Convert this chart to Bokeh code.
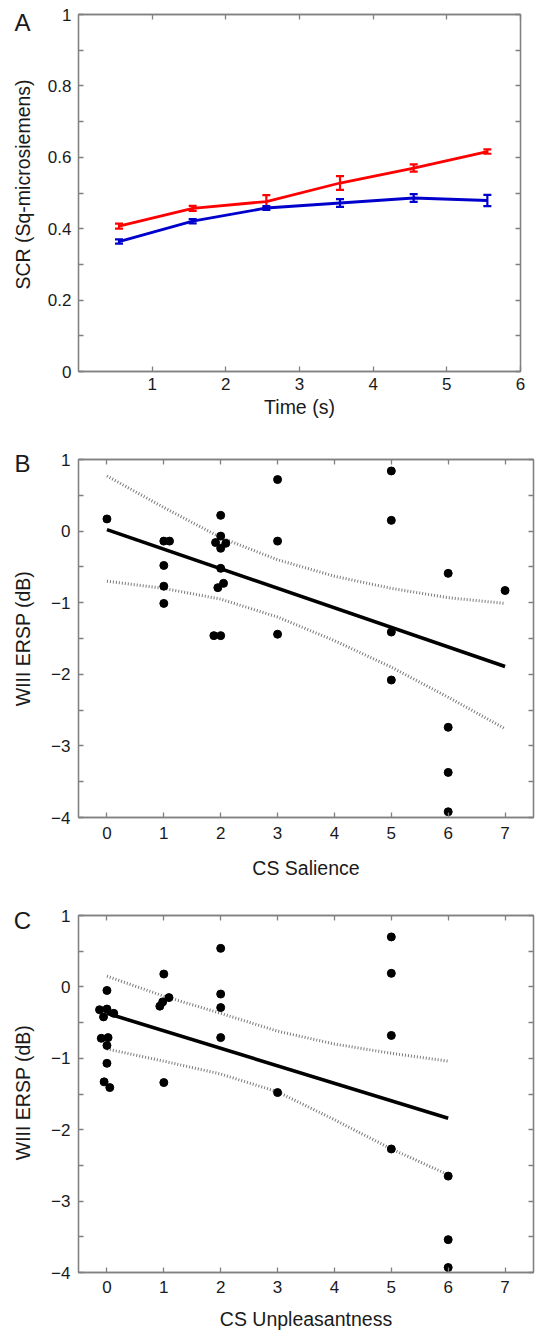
import math
from bokeh.plotting import figure
from bokeh.models import (Range1d, FixedTicker, LinearAxis, Whisker, ColumnDataSource,
                          TeeHead, CustomJSTickFormatter, CustomLabelingPolicy)
from bokeh.layouts import column, row
from bokeh.core.properties import value
from bokeh.embed import file_html
from bokeh.resources import INLINE

# ---------------- data ----------------
# Panel A
time_s = [0.55, 1.55, 2.55, 3.55, 4.55, 5.55]
scr_red = [0.407, 0.457, 0.476, 0.528, 0.570, 0.616]
scr_red_err = [0.007, 0.007, 0.018, 0.019, 0.010, 0.006]
scr_blue = [0.364, 0.421, 0.458, 0.472, 0.486, 0.479]
scr_blue_err = [0.006, 0.006, 0.005, 0.011, 0.011, 0.016]

# Panel B
salience = [0, 1, 1.1, 1, 1, 1, 2, 2, 1.91, 2, 2.09, 2, 1.95, 2.05, 1.88, 2,
            3, 3, 3, 5, 5, 5, 5, 6, 6, 6, 6, 7]
ersp_b = [0.17, -0.14, -0.14, -0.48, -0.77, -1.01, 0.22, -0.07, -0.16, -0.24, -0.17,
          -0.52, -0.79, -0.73, -1.46, -1.46, 0.72, -0.14, -1.44, 0.84, 0.15, -1.41,
          -2.08, -0.59, -2.74, -3.37, -3.92, -0.83]
fit_b_x = [0, 7]
fit_b_y = [0.02, -1.89]
ci_b_x = [0, 1, 2, 3, 4, 5, 6, 7]
ci_b_upper = [0.77, 0.33, -0.09, -0.40, -0.63, -0.80, -0.93, -1.01]
ci_b_lower = [-0.70, -0.80, -0.95, -1.20, -1.53, -1.90, -2.32, -2.76]

# Panel C
unpleasant = [0, -0.13, 0, -0.06, 0.12, -0.1, 0.02, 0, 0, -0.05, 0.05,
              1, 0.93, 0.98, 1.09, 1, 2, 2, 2, 2, 3, 5, 5, 5, 5, 6, 6, 6]
ersp_c = [-0.05, -0.32, -0.31, -0.42, -0.37, -0.72, -0.71, -0.82, -1.07, -1.33, -1.41,
          0.18, -0.27, -0.21, -0.15, -1.34, 0.54, -0.10, -0.29, -0.71, -1.48,
          0.70, 0.19, -0.68, -2.27, -2.65, -3.54, -3.93]
fit_c_x = [0, 6]
fit_c_y = [-0.37, -1.84]
ci_c_x = [0, 1, 2, 3, 4, 5, 6]
ci_c_upper = [0.15, -0.13, -0.37, -0.62, -0.80, -0.93, -1.04]
ci_c_lower = [-0.87, -1.04, -1.22, -1.47, -1.86, -2.27, -2.63]

panel_letters = ["A", "B", "C"]
y_titles = ["SCR (Sq-microsiemens)", "WIII ERSP (dB)", "WIII ERSP (dB)"]

FONT = "Liberation Sans"
AX = "#808080"
TXT = "#1a1a1a"
NO_LABELS = CustomLabelingPolicy(code="for (const i of indices) { if (i < 0) { yield i } }")


def style_axis(ax, hidden=False):
    ax.axis_line_color = AX
    ax.axis_line_width = 1.3
    ax.major_tick_line_color = AX
    ax.major_tick_line_width = 1.3
    ax.minor_tick_line_color = AX
    ax.minor_tick_line_width = 1.3
    ax.major_tick_in = 5
    ax.major_tick_out = 0
    ax.minor_tick_in = 5
    ax.minor_tick_out = 0
    ax.major_label_text_font = FONT
    ax.major_label_text_color = TXT
    ax.axis_label_text_font = FONT
    ax.axis_label_text_font_style = "normal"
    ax.axis_label_text_color = TXT
    ax.axis_label_text_font_size = "19.5px"
    if hidden:
        ax.major_label_text_font_size = "1px"
        ax.major_label_standoff = 0
        ax.major_label_policy = NO_LABELS
    else:
        ax.major_label_text_font_size = "17px"


def make_fig(xr, yr, fw, fh, left, top, right, bottom, xticker, yticker):
    p = figure(frame_width=fw, frame_height=fh, x_range=xr, y_range=yr,
               output_backend="svg", toolbar_location=None,
               x_axis_type=None, y_axis_type=None,
               min_border_left=left, min_border_top=top,
               min_border_right=right, min_border_bottom=bottom)
    p.grid.visible = False
    p.outline_line_color = AX
    p.outline_line_width = 1.3
    p.background_fill_color = "white"
    p.border_fill_color = "white"
    bx = LinearAxis(ticker=xticker)
    ly = LinearAxis(ticker=yticker)
    ry = LinearAxis(ticker=yticker)
    tx = LinearAxis(ticker=xticker)
    style_axis(bx)
    style_axis(ly)
    style_axis(ry, hidden=True)
    style_axis(tx, hidden=True)
    p.add_layout(bx, "below")
    p.add_layout(ly, "left")
    p.add_layout(ry, "right")
    p.add_layout(tx, "above")
    return p, bx, ly


# ---------------- Panel A ----------------
tA_x = FixedTicker(ticks=[1, 2, 3, 4, 5, 6])
tA_y = FixedTicker(ticks=[0, 0.2, 0.4, 0.6, 0.8, 1.0], minor_ticks=[0.1, 0.3, 0.5, 0.7, 0.9])
pA, axA_x, axA_y = make_fig(Range1d(0, 6), Range1d(0, 1), 442, 357, 31, 14, 12, 54, tA_x, tA_y)
axA_y.formatter = CustomJSTickFormatter(code="return String(Math.round(tick*10)/10);")
axA_x.axis_label = "Time (s)"
axA_x.major_label_standoff = 6
axA_x.axis_label_standoff = 3
axA_y.major_label_standoff = 7

for vals, errs, col in [(scr_red, scr_red_err, "#ff0000"), (scr_blue, scr_blue_err, "#0000cc")]:
    src = ColumnDataSource(dict(x=time_s, y=vals,
                                upper=[v + e for v, e in zip(vals, errs)],
                                lower=[v - e for v, e in zip(vals, errs)]))
    pA.line("x", "y", source=src, line_color=col, line_width=2.8)
    pA.add_layout(Whisker(base="x", upper="upper", lower="lower", source=src,
                          line_color=col, line_width=2.2,
                          upper_head=TeeHead(size=8, line_color=col, line_width=2.2),
                          lower_head=TeeHead(size=8, line_color=col, line_width=2.2)))

# ---------------- Panels B and C ----------------
tBC_x = FixedTicker(ticks=[0, 1, 2, 3, 4, 5, 6, 7])
tBC_y = FixedTicker(ticks=[-4, -3, -2, -1, 0, 1], minor_ticks=[-3.5, -2.5, -1.5, -0.5, 0.5])


def scatter_panel(xs, ys, fx, fy, cx, cu, cl, xlabel, fh, top, bottom, mstand, lstand):
    p, bx, ly = make_fig(Range1d(-0.5, 7.5), Range1d(-4, 1), 455, fh,
                         33, top, 1, bottom, tBC_x, tBC_y)
    bx.axis_label = xlabel
    bx.major_label_standoff = mstand
    bx.axis_label_standoff = lstand
    ly.major_label_standoff = 8
    p.line(cx, cu, line_color="#7a7a7a", line_width=3, line_dash="1 2")
    p.line(cx, cl, line_color="#7a7a7a", line_width=3, line_dash="1 2")
    p.line(fx, fy, line_color="black", line_width=3.6)
    p.scatter(xs, ys, size=8, fill_color="black", line_color="black")
    return p


pB = scatter_panel(salience, ersp_b, fit_b_x, fit_b_y, ci_b_x, ci_b_upper, ci_b_lower,
                   "CS Salience", 358, 34, 63, 9, 15)
pC = scatter_panel(unpleasant, ersp_c, fit_c_x, fit_c_y, ci_c_x, ci_c_upper, ci_c_lower,
                   "CS Unpleasantness", 357, 34, 61, 8, 12)

# ---------------- left strip: panel letters and y-axis titles ----------------
LW, LH = 44, 1329
strip = figure(width=LW, height=LH, x_range=Range1d(0, LW), y_range=Range1d(0, LH),
               output_backend="svg", toolbar_location=None,
               x_axis_type=None, y_axis_type=None,
               min_border_left=0, min_border_right=0, min_border_top=0, min_border_bottom=0)
strip.grid.visible = False
strip.outline_line_color = None
strip.border_fill_color = "white"
letter_top = [22, 463, 920]
title_mid = [184, 638, 1092]
strip.text(x=[22, 22, 22], y=[LH - t for t in letter_top], text=panel_letters,
           text_font=value(FONT), text_font_size="24px", text_color=TXT,
           text_align="center", text_baseline="middle")
strip.text(x=[22, 22, 22], y=[LH - t for t in title_mid], text=y_titles,
           angle=math.pi / 2, text_font=value(FONT), text_font_size="19.5px",
           text_color=TXT, text_align="center", text_baseline="middle")

layout = row(strip, column(pA, pB, pC, spacing=0), spacing=0)
open("out.html", "w").write(file_html(layout, INLINE))
